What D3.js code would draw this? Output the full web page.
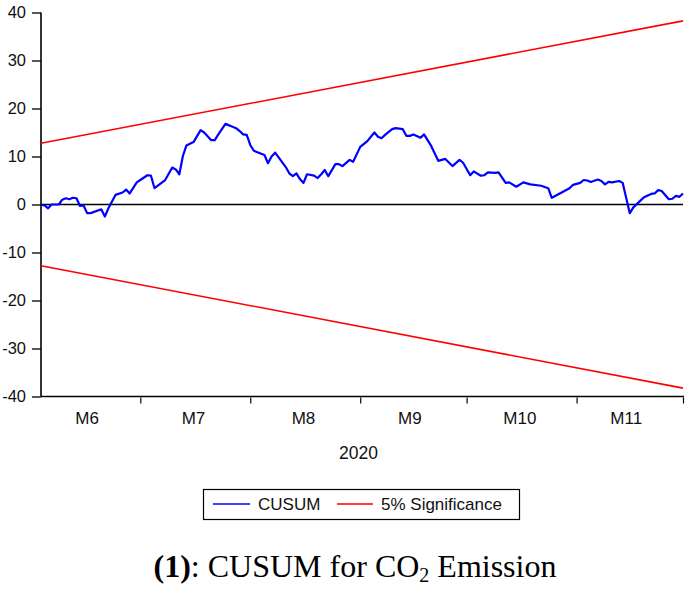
<!DOCTYPE html>
<html>
<head>
<meta charset="utf-8">
<script src="https://cdn.jsdelivr.net/npm/d3@7"></script>
<style>
  html, body { margin: 0; padding: 0; background: #fff; }
  svg { display: block; }
</style>
</head>
<body>
<svg id="chart" width="685" height="589"></svg>
<script>
// ---- data ----
const startDate = "2020-06-03";
const endDate = "2020-12-01";
const dayOffset = [0,1,2,3,5,6,7,8,9,10,11,12,13,14,17,18,19,21,23,24,25,27,28,30,31,32,35,37,38,39,40,41,43,45,46,48,49,50,52,54,55,56,57,58,59,60,61,63,64,65,66,67,69,70,71,72,73,74,75,77,78,79,80,81,83,84,85,87,88,90,92,94,95,96,97,99,100,102,103,104,105,107,108,110,112,114,116,118,119,121,122,124,125,126,128,129,131,132,134,136,138,141,143,144,146,149,150,152,153,154,155,157,158,159,160,161,163,164,166,167,169,170,172,173,174,175,177,178,179,180,181];
const cusum = [0,-0.2,-0.8,0,0,1,1.3,1.1,1.4,1.3,-0.3,-0.2,-1.8,-1.8,-1,-2.5,-0.8,2,2.5,3.1,2.3,4.6,5.1,6.1,6,3.4,5.1,7.7,7.3,6.3,10.1,12.3,13,15.5,15,13.4,13.4,14.6,16.8,16.2,15.9,15.3,14.6,14.5,12.4,11.2,10.9,10.3,8.6,10,10.8,9.8,7.8,6.5,5.9,6.5,5.3,4.5,6.3,6,5.5,6.3,7.2,5.9,8.4,8.4,8,9.3,8.9,12,13.2,15,14.1,13.8,14.5,15.7,15.9,15.7,14.3,14.3,14.6,13.9,14.6,12.2,9.1,9.5,8,9.3,8.7,6.1,6.9,6,6.1,6.7,6.6,6.7,4.5,4.6,3.7,4.6,4.2,3.9,3.4,1.4,2.2,3.4,4.1,4.5,5.1,5,4.7,5.2,4.9,4.2,4.7,4.6,4.9,4.5,-1.8,-0.6,0.8,1.5,2.2,2.3,3,2.8,1.1,1.2,1.8,1.6,2.3];
const sigDays = [0, 181];
const upperBand = [12.75, 38.25];
const lowerBand = [-12.75, -38.25];
const yTicks = [40, 30, 20, 10, 0, -10, -20, -30, -40];
const monthStarts = ["2020-07-01","2020-08-01","2020-09-01","2020-10-01","2020-11-01","2020-12-01"];
const monthLabels = ["M6","M7","M8","M9","M10","M11"];
const monthMid = ["2020-06-16","2020-07-16","2020-08-16","2020-09-15","2020-10-16","2020-11-15"];
const yearLabel = "2020";
const legendNames = ["CUSUM", "5% Significance"];

// ---- drawing ----
const parse = d3.timeParse("%Y-%m-%d");
const t0 = parse(startDate);
const svg = d3.select("#chart");
const pLeft = 41, pRight = 683, pTop = 12.5, pBottom = 396.5;
const x = d3.scaleTime().domain([t0, parse(endDate)]).range([pLeft, pRight]);
const y = d3.scaleLinear().domain([-40, 40]).range([pBottom, pTop]);
const dateOf = d => d3.timeDay.offset(t0, d);
const font = "'Liberation Sans', Arial, sans-serif";

// y axis
const yAxis = d3.axisLeft(y).tickValues(yTicks).tickSize(9).tickPadding(6).tickFormat(d => String(d));
const gy = svg.append("g").attr("transform", `translate(${pLeft},0)`).call(yAxis);
gy.select(".domain").attr("stroke", "#000").attr("stroke-width", 1.6).attr("d", `M0,${pTop}V${pBottom}`);
gy.selectAll(".tick line").attr("stroke", "#000").attr("stroke-width", 1.3);
gy.selectAll(".tick text").attr("font-family", font).attr("font-size", 16.5).attr("fill", "#111");

// x axis line
svg.append("line").attr("x1", pLeft).attr("x2", pRight + 1).attr("y1", pBottom).attr("y2", pBottom)
  .attr("stroke", "#000").attr("stroke-width", 1.6);
// x ticks (month starts)
const xAxis = d3.axisBottom(x).tickValues(monthStarts.map(parse)).tickSize(6).tickFormat("");
const gx = svg.append("g").attr("transform", `translate(0,${pBottom + 1})`).call(xAxis);
gx.select(".domain").remove();
gx.selectAll(".tick line").attr("stroke", "#000").attr("stroke-width", 1.2);
// month labels
svg.append("g").selectAll("text").data(monthLabels).join("text")
  .attr("x", (d, i) => x(parse(monthMid[i])))
  .attr("y", 424)
  .attr("text-anchor", "middle")
  .attr("font-family", font).attr("font-size", 17).attr("fill", "#111")
  .text(d => d);
svg.append("text").attr("x", (x(parse("2020-06-01")) + x(parse("2020-12-01"))) / 2).attr("y", 459)
  .attr("text-anchor", "middle").attr("font-family", font).attr("font-size", 17.5).attr("fill", "#111")
  .text(yearLabel);

// zero line
svg.append("line").attr("x1", pLeft).attr("x2", pRight).attr("y1", y(0)).attr("y2", y(0))
  .attr("stroke", "#000").attr("stroke-width", 1.5);

// significance bands
const dayLine = d3.line().x(d => x(dateOf(d[0]))).y(d => y(d[1]));
[upperBand, lowerBand].forEach(band => {
  svg.append("path").datum(sigDays.map((d, i) => [d, band[i]]))
    .attr("d", dayLine).attr("fill", "none").attr("stroke", "#ff0000").attr("stroke-width", 1.6);
});

// CUSUM line
svg.append("path").datum(dayOffset.map((d, i) => [d, cusum[i]]))
  .attr("d", dayLine).attr("fill", "none").attr("stroke", "#0000ff").attr("stroke-width", 2.2)
  .attr("stroke-linejoin", "round");

// legend
const lg = svg.append("g");
lg.append("rect").attr("x", 203.5).attr("y", 489.5).attr("width", 316).attr("height", 30)
  .attr("fill", "#fff").attr("stroke", "#000").attr("stroke-width", 1.2);
lg.append("line").attr("x1", 213).attr("x2", 250).attr("y1", 504).attr("y2", 504).attr("stroke", "#0000ff").attr("stroke-width", 1.5);
lg.append("text").attr("x", 258).attr("y", 510).attr("font-family", font).attr("font-size", 17).attr("fill", "#111").text(legendNames[0]);
lg.append("line").attr("x1", 337).attr("x2", 373).attr("y1", 504).attr("y2", 504).attr("stroke", "#ff0000").attr("stroke-width", 1.5);
lg.append("text").attr("x", 381).attr("y", 510).attr("font-family", font).attr("font-size", 17).attr("fill", "#111").text(legendNames[1]);

// caption
const cap = svg.append("text").attr("x", 355).attr("y", 577).attr("text-anchor", "middle")
  .attr("font-family", "'Liberation Serif', 'Times New Roman', serif").attr("font-size", 32).attr("fill", "#000");
cap.append("tspan").attr("font-weight", "bold").text("(1)");
cap.append("tspan").text(": CUSUM for CO");
cap.append("tspan").attr("font-size", 20).attr("dy", 5).text("2");
cap.append("tspan").attr("dy", -5).text(" Emission");
</script>
</body>
</html>
